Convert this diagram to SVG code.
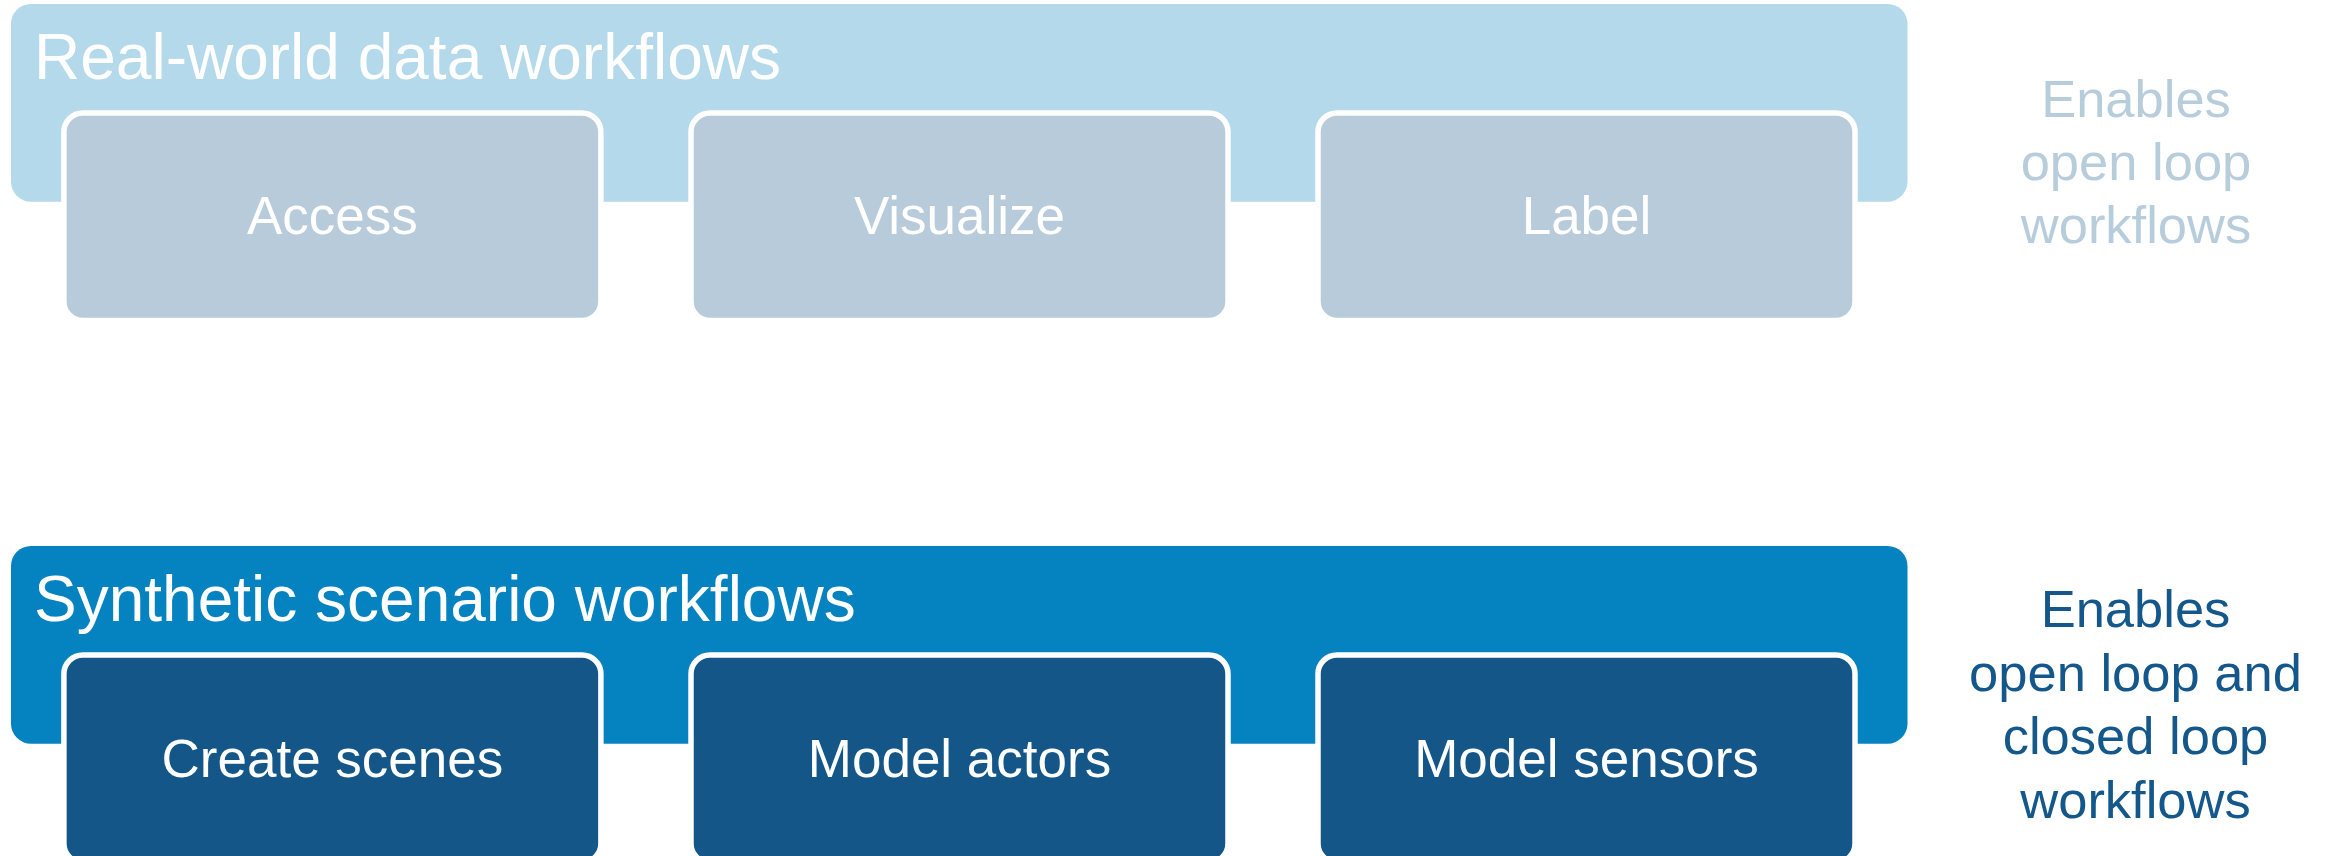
<svg xmlns="http://www.w3.org/2000/svg" width="2333" height="856" viewBox="0 0 2333 856">
  <style>
    text { font-family: "Liberation Sans", Arial, sans-serif; }
    .band-top { fill: #b3d9ea; }
    .band-bot { fill: #0583c0; }
    .node { stroke: #ffffff; stroke-width: 5.5; }
    .node-top { fill: #b8cbdb; }
    .node-bot { fill: #145687; }
    .heading { font-size: 64px; fill: #ffffff; }
    .label { font-size: 53px; fill: #ffffff; text-anchor: middle; }
    .side { font-size: 52.5px; text-anchor: middle; }
    .side-top { fill: #b8cddc; }
    .side-bot { fill: #14578a; }
  </style>
  <rect width="2333" height="856" fill="#ffffff"/>

  <g id="band-real-world">
    <rect class="band-top" x="11" y="4" width="1896.5" height="197.7" rx="20" ry="20"/>
    <text class="heading" x="34" y="79">Real-world data workflows</text>
  </g>
  <g id="node-access">
    <rect class="node node-top" x="63.9" y="113" width="537" height="207.5" rx="19" ry="19"/>
    <text class="label" x="332.4" y="234">Access</text>
  </g>
  <g id="node-visualize">
    <rect class="node node-top" x="691" y="113" width="537" height="207.5" rx="19" ry="19"/>
    <text class="label" x="959.5" y="234">Visualize</text>
  </g>
  <g id="node-label">
    <rect class="node node-top" x="1318" y="113" width="537" height="207.5" rx="19" ry="19"/>
    <text class="label" x="1586.5" y="234">Label</text>
  </g>
  <g id="note-open-loop">
    <text class="side side-top" x="2136" y="116.7">Enables</text>
    <text class="side side-top" x="2136" y="180">open loop</text>
    <text class="side side-top" x="2136" y="243.3">workflows</text>
  </g>

  <g id="band-synthetic">
    <rect class="band-bot" x="11" y="546" width="1896.5" height="197.7" rx="20" ry="20"/>
    <text class="heading" x="34" y="621">Synthetic scenario workflows</text>
  </g>
  <g id="node-create-scenes">
    <rect class="node node-bot" x="63.9" y="655" width="537" height="207.5" rx="19" ry="19"/>
    <text class="label" x="332.4" y="776.5">Create scenes</text>
  </g>
  <g id="node-model-actors">
    <rect class="node node-bot" x="691" y="655" width="537" height="207.5" rx="19" ry="19"/>
    <text class="label" x="959.5" y="776.5">Model actors</text>
  </g>
  <g id="node-model-sensors">
    <rect class="node node-bot" x="1318" y="655" width="537" height="207.5" rx="19" ry="19"/>
    <text class="label" x="1586.5" y="776.5">Model sensors</text>
  </g>
  <g id="note-closed-loop">
    <text class="side side-bot" x="2135.5" y="626.7">Enables</text>
    <text class="side side-bot" x="2135.5" y="690.7">open loop and</text>
    <text class="side side-bot" x="2135.5" y="754.3">closed loop</text>
    <text class="side side-bot" x="2135.5" y="818.3">workflows</text>
  </g>

  <g id="connectors"></g>
</svg>
